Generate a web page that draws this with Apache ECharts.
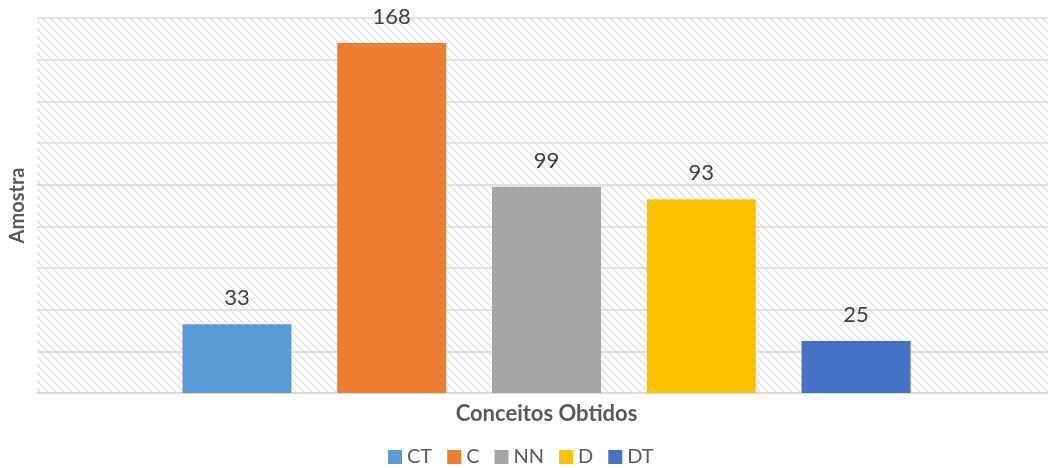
<!DOCTYPE html>
<html>
<head>
<meta charset="utf-8">
<script src="https://cdn.jsdelivr.net/npm/echarts@6/dist/echarts.min.js"></script>
<style>html,body{margin:0;padding:0;background:#fff;}#c{width:1048px;height:468px;}</style>
</head>
<body>
<div id="c"></div>
<script>
const seriesNames = ['CT', 'C', 'NN', 'D', 'DT'];
const seriesValues = [33, 168, 99, 93, 25];
const seriesColors = ['#5B9BD5', '#ED7D31', '#A5A5A5', '#FFC000', '#4472C4'];
const xTitle = 'Conceitos Obtidos';
const yTitle = 'Amostra';

// hatch pattern (downward diagonal)
const pc = document.createElement('canvas');
pc.width = 8; pc.height = 8;
const pctx = pc.getContext('2d');
pctx.fillStyle = '#ffffff';
pctx.fillRect(0, 0, 8, 8);
for (let i = 0; i < 8; i++) {
  pctx.fillStyle = '#dcdcdc';
  pctx.fillRect(i, i, 1, 1);
  pctx.fillStyle = '#ededed';
  pctx.fillRect((i + 1) % 8, i, 1, 1);
}

const FONT = 'Lato, "Open Sans", sans-serif';
const chart = echarts.init(document.getElementById('c'));
chart.setOption({
  animation: false,
  backgroundColor: '#fff',
  grid: { left: 37, right: -8, top: 18, bottom: 75, outerBoundsMode: 'none', containLabel: false },
  legend: {
    top: 442,
    left: 383,
    data: seriesNames,
    icon: 'rect',
    itemWidth: 14,
    itemHeight: 14,
    itemGap: 15,
    textStyle: { fontFamily: FONT, fontSize: 20, color: '#595959' }
  },
  xAxis: {
    type: 'category',
    data: [''],
    name: xTitle,
    nameLocation: 'middle',
    nameGap: 10,
    nameTextStyle: { fontFamily: FONT, fontSize: 22, fontWeight: 'bold', color: '#595959' },
    axisLine: { lineStyle: { color: '#d9d9d9', width: 1.5 } },
    axisTick: { show: false },
    axisLabel: { show: false }
  },
  yAxis: {
    type: 'value',
    min: 0,
    max: 180,
    interval: 20,
    name: yTitle,
    nameLocation: 'middle',
    nameRotate: 90,
    nameGap: 9,
    nameTextStyle: { fontFamily: FONT, fontSize: 20, fontWeight: 'bold', color: '#595959' },
    axisLine: { show: false },
    axisTick: { show: false },
    axisLabel: { show: false },
    splitLine: { lineStyle: { color: '#d9d9d9', width: 1.5 } },
    splitArea: { show: true, areaStyle: { color: [{ image: pc, repeat: 'repeat' }] } }
  },
  series: seriesNames.map((n, i) => ({
    name: n,
    type: 'bar',
    data: [seriesValues[i]],
    barWidth: 109,
    barGap: '42%',
    itemStyle: { color: seriesColors[i] },
    label: {
      show: true,
      position: 'top',
      distance: 15,
      fontFamily: FONT,
      fontSize: 22,
      color: '#404040'
    }
  }))
});
</script>
</body>
</html>
